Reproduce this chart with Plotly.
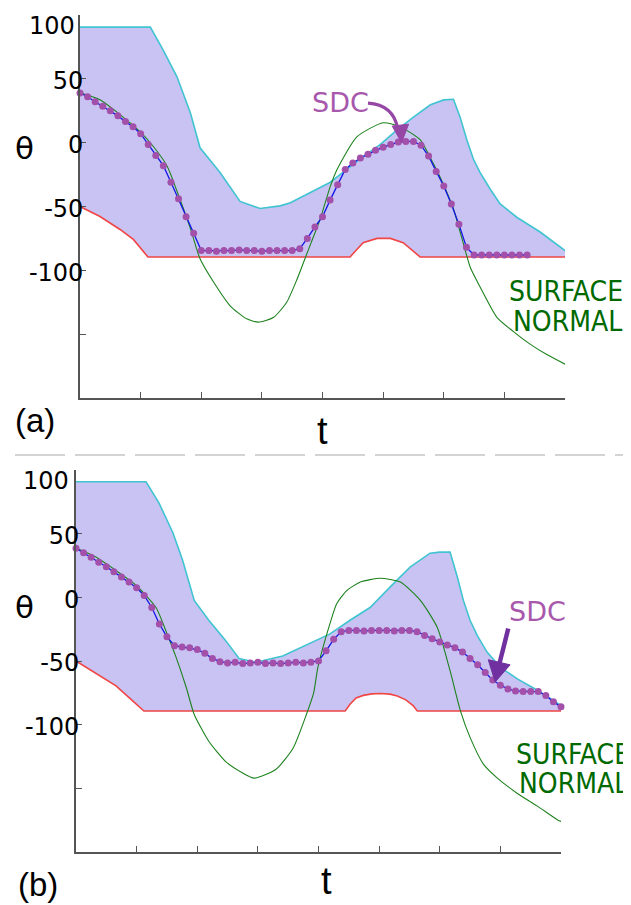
import plotly.graph_objects as go

W, H = 631, 905
# the page body has an 8px margin; reference pixel positions are shifted by it
OFF = 8

# ---------------- data (t in tick units 0..8, theta in degrees) ----------------
# panel (a)
a_upper_t = [0, 1.16, 1.37, 1.6, 1.82, 1.98, 2.31, 2.64, 2.97, 3.3, 3.47, 3.85, 4.13, 4.4, 4.67,
             4.95, 5.23, 5.5, 5.78, 6.0, 6.16, 6.27, 6.38, 6.49, 6.6, 6.77, 6.93, 7.21, 7.59, 8.0]
a_upper = [90.5, 90.5, 72.7, 51.6, 23.4, -4, -23.4, -46, -51.6, -49.5, -47, -38, -31, -21, -11,
           -1.6, 10, 20, 29.7, 33.5, 34, 20, 2.3, -13, -23.4, -36.7, -48, -58.6, -70, -84.5]
a_lower_t = [0, 0.33, 0.66, 0.88, 1.12, 4.455, 4.54, 4.67, 4.9, 5.12, 5.33, 5.5, 5.61, 8.0]
a_lower = [-50, -57.8, -68, -75.8, -89.5, -89.5, -85, -78.4, -75, -75, -78.4, -85, -89.5, -89.5]
a_normal_t = [0, 0.33, 0.66, 0.99, 1.21, 1.44, 1.65, 1.82, 1.98, 2.2, 2.48, 2.75, 2.94, 3.19, 3.41,
              3.58, 3.75, 3.96, 4.13, 4.24, 4.57, 5.0, 5.28, 5.61, 5.78, 5.95, 6.16, 6.3, 6.44, 6.6,
              6.88, 7.15, 7.43, 7.7, 8.0]
a_normal = [39, 33.6, 22, 8.6, -3, -18.6, -44.5, -67, -91, -109, -128, -138, -140.6, -137, -125,
            -107, -86, -60, -34, -21, 4.7, 15.6, 12.5, 2.3, -12, -28, -52, -75, -98, -113,
            -137, -148, -158, -166, -173.5]
a_sdc = [39, 36, 32, 28.5, 25, 21, 16.5, 12.5, 7, -1.5, -10, -18, -31, -44, -58, -71, -84.5,
         -84.5, -85, -84.5, -84.5, -84, -84.5, -84.5, -85, -84.5, -84.5, -84.5, -84.5,
         -83, -75, -66, -58, -45, -33, -21, -16, -12, -9, -6, -3.5, -1.5, 0.5, 1, 1, -2,
         -10.5, -22.5, -34, -48, -64, -82, -88,
         -88, -88, -88, -88, -88, -88, -88]

# panel (b)
b_upper_t = [0, 1.155, 1.37, 1.6, 1.76, 1.95, 2.19, 2.47, 2.69, 2.97, 3.41, 3.86, 4.19, 4.52, 4.85,
             5.18, 5.51, 5.84, 6.0, 6.17, 6.29, 6.39, 6.5, 6.62, 6.78, 7.0, 7.28, 7.61, 7.95, 8.0]
b_upper = [90.8, 90.8, 74, 50.5, 29, -2.4, -18, -34, -48, -51, -46, -36, -28.7, -18, -8,
           8, 23.7, 34.7, 35.5, 35.5, 16, -2.4, -18, -30, -43, -55, -64, -73, -84, -85]
b_lower_t = [0, 0.33, 0.66, 0.88, 1.12, 4.44, 4.52, 4.62, 4.74, 4.88, 5.02, 5.18, 5.3, 5.44, 5.56, 5.63, 8.0]
b_lower = [-50, -60, -69.5, -79, -89.3, -89.3, -84, -79, -77, -75.8, -75.5, -76, -77.5, -80.5, -85, -89.3, -89.3]
b_normal_t = [0, 0.33, 0.66, 0.99, 1.32, 1.48, 1.65, 1.82, 1.95, 2.19, 2.47, 2.75, 2.94, 3.3, 3.58,
              3.8, 3.92, 3.99, 4.19, 4.3, 4.47, 4.69, 5.02, 5.35, 5.68, 5.96, 6.17, 6.34, 6.5,
              6.72, 6.95, 7.28, 7.61, 7.95, 8.0]
b_normal = [38.7, 31.6, 21, 9.5, -8, -26, -47, -71, -92, -113, -129, -138, -142, -135, -118.5,
            -92, -75, -55, -20.5, -5, 5.5, 12, 15, 12, -2.4, -23.7, -57.6, -89, -110,
            -131, -142, -154, -164, -175, -176]
b_sdc = [38.5, 35, 31.5, 27.5, 24, 20, 16, 12, 7.5, 1.5, -8, -21, -31, -38, -39, -39.5, -41, -44,
         -48, -50.5, -51.5,
         -51, -52, -51.5, -51, -52, -51.5, -52, -51.5, -51, -51.5, -51,
         -50, -42, -33, -27, -26,
         -26, -26.5, -26, -26, -26, -26.5, -26, -26,
         -27, -30, -32.5, -35, -37.5, -39.5, -43, -48, -53, -59, -65, -69, -72, -73.5, -74,
         -74, -74, -77, -82, -86]
SDC_STEP = 0.125

x_ticks = [0, 1, 2, 3, 4, 5, 6, 7, 8]
y_ticks = [-200, -150, -100, -50, 0, 50, 100]
# the top label ("100") sits a little below its tick in the reference; it is drawn as an annotation
y_ticktext = ["", "", "-100", "-50", "0", "50", ""]
top_tick_label = "100"

# ---------------- styles ----------------
FILL = "rgba(190,184,240,0.85)"
CYAN = "rgb(64,196,210)"
RED = "rgb(240,70,70)"
GREEN = "rgb(30,130,30)"
BLUE = "rgb(20,20,230)"
DOT = "rgb(162,80,170)"
AXIS = "#555555"
FONT_NUM = "DejaVu Sans"


def fx(x):
    return (x - OFF) / W


def fy(y):
    return 1 - (y - OFF) / H


fig = go.Figure()


def add_panel(xa, ya, up_t, up, lo_t, lo, nt, nv, sdc):
    fig.add_trace(go.Scatter(x=list(up_t) + list(lo_t)[::-1], y=list(up) + list(lo)[::-1],
                             fill="toself", fillcolor=FILL, line=dict(width=0), mode="lines",
                             hoverinfo="skip", xaxis=xa, yaxis=ya, showlegend=False))
    fig.add_trace(go.Scatter(x=lo_t, y=lo, mode="lines", line=dict(color=RED, width=1.6),
                             xaxis=xa, yaxis=ya, showlegend=False))
    fig.add_trace(go.Scatter(x=up_t, y=up, mode="lines", line=dict(color=CYAN, width=1.6),
                             xaxis=xa, yaxis=ya, showlegend=False))
    fig.add_trace(go.Scatter(x=nt, y=nv, mode="lines",
                             line=dict(color=GREEN, width=1.1, shape="spline", smoothing=0.6),
                             xaxis=xa, yaxis=ya, showlegend=False))
    st = [i * SDC_STEP for i in range(len(sdc))]
    fig.add_trace(go.Scatter(x=st, y=sdc, mode="lines", line=dict(color=BLUE, width=1.3),
                             xaxis=xa, yaxis=ya, showlegend=False))
    fig.add_trace(go.Scatter(x=st, y=sdc, mode="markers", marker=dict(color=DOT, size=7),
                             xaxis=xa, yaxis=ya, showlegend=False, cliponaxis=False))


add_panel("x", "y", a_upper_t, a_upper, a_lower_t, a_lower, a_normal_t, a_normal, a_sdc)
add_panel("x2", "y2", b_upper_t, b_upper, b_lower_t, b_lower, b_normal_t, b_normal, b_sdc)

axis_common = dict(showline=True, linecolor=AXIS, linewidth=1.6, ticks="inside", ticklen=6,
                   tickcolor=AXIS, tickwidth=1.4, showgrid=False, zeroline=False, fixedrange=True,
                   automargin=False)
yaxis_common = dict(range=[-200, 100], tickvals=y_ticks, ticktext=y_ticktext,
                    tickfont=dict(family=FONT_NUM, size=24, color="black"),
                    ticklabelstandoff=-10, ticklabelshift=2, ticklabeloverflow="allow")

fig.update_layout(
    width=W, height=H, margin=dict(l=0, r=0, t=0, b=0, pad=0),
    paper_bgcolor="white", plot_bgcolor="white", showlegend=False,
    xaxis=dict(domain=[fx(80), fx(565)], range=[0, 8], tickvals=x_ticks, showticklabels=False,
               anchor="y", **axis_common),
    yaxis=dict(domain=[fy(398), fy(15)], anchor="x", **yaxis_common, **axis_common),
    xaxis2=dict(domain=[fx(76), fx(561)], range=[0, 8], tickvals=x_ticks, showticklabels=False,
                anchor="y2", **axis_common),
    yaxis2=dict(domain=[fy(852), fy(470)], anchor="x2", **yaxis_common, **axis_common),
)

annotations = []


def label(text, x, y, size, color="black", family="Liberation Sans", xanchor="center"):
    annotations.append(dict(text=text, x=fx(x), y=fy(y), xref="paper", yref="paper", showarrow=False,
                            xanchor=xanchor, yanchor="middle",
                            font=dict(family=family, size=size, color=color)))


label(top_tick_label, 77, 26, 24, family=FONT_NUM, xanchor="right")
label(top_tick_label, 71, 481, 24, family=FONT_NUM, xanchor="right")
label("θ", 24, 148, 31, family="DejaVu Sans")
label("θ", 24, 607, 31, family="DejaVu Sans")
label("t", 322, 431, 38)
label("t", 326, 881, 38)
label("(a)", 35, 420, 33)
label("(b)", 38, 884, 33)
SDC_COLOR = "rgb(168,88,172)"
label("SDC", 340, 102, 27, color=SDC_COLOR, family="DejaVu Sans")
label("SDC", 537, 611, 27, color=SDC_COLOR, family="DejaVu Sans")
SN = "rgb(0,105,0)"
SN_FONT = "DejaVu Sans Condensed, DejaVu Sans"
label("SURFACE", 507, 292, 28, color=SN, family=SN_FONT, xanchor="left")
label("NORMAL", 511, 321, 28, color=SN, family=SN_FONT, xanchor="left")
label("SURFACE", 514, 754, 28, color=SN, family=SN_FONT, xanchor="left")
label("NORMAL", 517, 783, 28, color=SN, family=SN_FONT, xanchor="left")
fig.update_layout(annotations=annotations)

# arrows (data coordinates of each panel)
ARROW_A = "rgb(150,70,165)"
ARROW_B = "rgb(112,48,160)"
fig.add_shape(type="path", xref="x", yref="y",
              path="M 4.75,31 Q 5.17,29.7 5.24,11", line=dict(color=ARROW_A, width=3.2))
fig.add_shape(type="path", xref="x", yref="y",
              path="M 5.15,13 L 5.42,14.5 L 5.305,0 Z", fillcolor=ARROW_A, line=dict(color=ARROW_A, width=1))
fig.add_shape(type="line", xref="x2", yref="y2", x0=7.13, y0=-24.5, x1=6.985, y1=-52,
              line=dict(color=ARROW_B, width=4.5))
fig.add_shape(type="path", xref="x2", yref="y2",
              path="M 6.80,-49 L 7.16,-53 L 6.914,-66.5 Z", fillcolor=ARROW_B, line=dict(color=ARROW_B, width=1))

# dashed separator
fig.add_shape(type="line", xref="paper", yref="paper", x0=fx(15), x1=1, y0=fy(455), y1=fy(455),
              line=dict(color="#d4d4d4", width=2.2, dash="50px,10px"))

fig.write_html("out.html")
